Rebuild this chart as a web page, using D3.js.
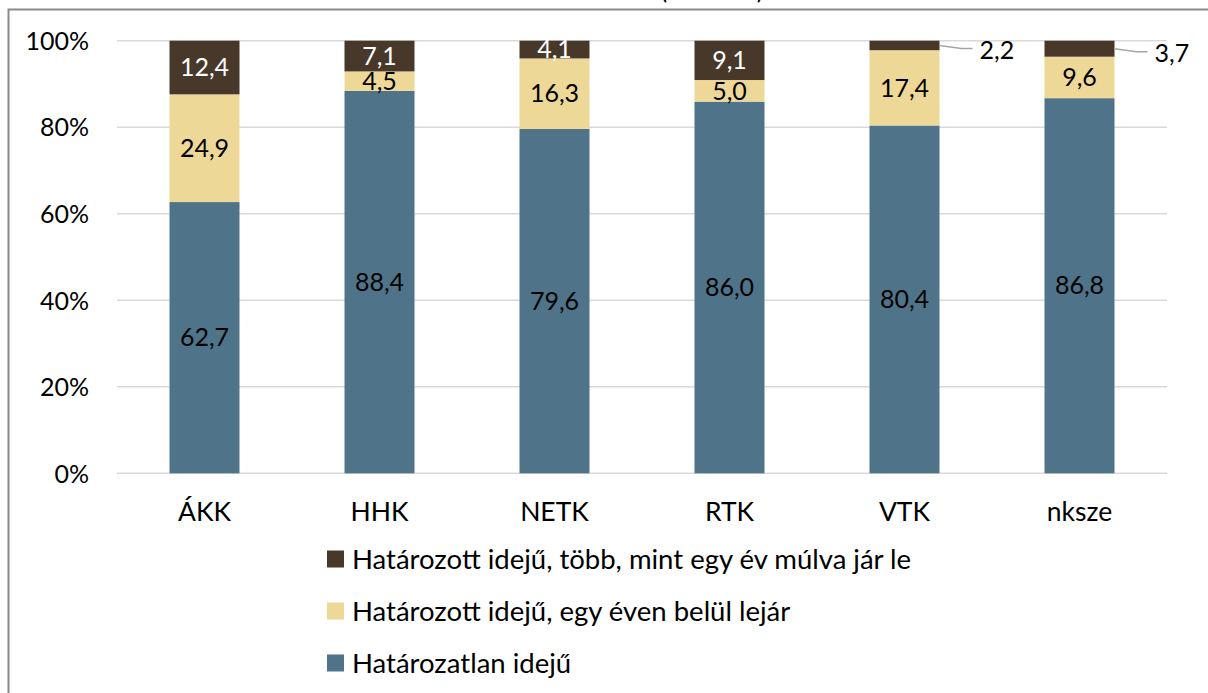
<!DOCTYPE html>
<html><head><meta charset="utf-8">
<script src="https://cdn.jsdelivr.net/npm/d3@7"></script>
<style>
html,body{margin:0;padding:0;background:#fff;}
svg{display:block;}
text{font-family:Lato,"Open Sans",sans-serif;fill:#000;}
</style></head>
<body>
<svg id="c" width="1208" height="693"></svg>
<script>
const categories = ["ÁKK","HHK","NETK","RTK","VTK","nksze"];
const seriesNames = ["Határozatlan idejű","Határozott idejű, egy éven belül lejár","Határozott idejű, több, mint egy év múlva jár le"];
const indefinite = [62.7, 88.4, 79.6, 86.0, 80.4, 86.8];
const withinYear = [24.9, 4.5, 16.3, 5.0, 17.4, 9.6];
const overYear   = [12.4, 7.1, 4.1, 9.1, 2.2, 3.7];
const yTicks = [0, 0.2, 0.4, 0.6, 0.8, 1.0];
const outsideLabels = ["VTK","nksze"]; // brown labels drawn outside with leader lines

const colors = ["#4F7489","#EDD898","#48382A"];
const labelColors = ["#000","#000","#fff"];
const series = [indefinite, withinYear, overYear];

const svg = d3.select("#c");
const FS_NUM = 25, FS_AX = 25, FS_CAT = 26.5, FS_LEG = 27.5;

// frame
svg.append("path").attr("d","M8.5,693 L8.5,9.5 L1208,9.5").attr("fill","none").attr("stroke","#898989").attr("stroke-width",2);
// cut-off title remnant (only the bottom of the parentheses is visible in the reference)
svg.append("text").attr("x",712).attr("y",-1).attr("text-anchor","middle").attr("font-size",25).text("(százalék)");

const x = d3.scaleBand().domain(categories).range([117,1167]).paddingInner(0.6).paddingOuter(0.3);
const y = d3.scaleLinear().domain([0,1]).range([473.3,40.7]);

// gridlines
svg.append("g").selectAll("line").data(yTicks).join("line")
  .attr("x1",117).attr("x2",1167).attr("y1",d=>y(d)).attr("y2",d=>y(d))
  .attr("stroke","#d9d9d9").attr("stroke-width",1.5);

// y axis labels
const yAxis = d3.axisLeft(y).tickValues(yTicks).tickFormat(d=>Math.round(d*100)+"%").tickSize(0).tickPadding(0);
const ya = svg.append("g").attr("transform","translate(89,0)").call(yAxis);
ya.select(".domain").remove();
ya.selectAll("text").attr("font-size",FS_AX).attr("font-family","Lato,sans-serif").attr("fill","#000").attr("dy","0.35em");

// stacked data (100% stacked)
const rows = categories.map((c,i)=>{
  const vals = series.map(s=>s[i]);
  const tot = d3.sum(vals);
  let acc = 0;
  return vals.map((v,k)=>{ const y0=acc/tot; acc+=v; return {cat:c,k,v,y0,y1:acc/tot}; });
});
const segs = rows.flat();

svg.append("g").selectAll("rect").data(segs).join("rect")
  .attr("x",d=>x(d.cat)).attr("width",x.bandwidth())
  .attr("y",d=>y(d.y1)).attr("height",d=>y(d.y0)-y(d.y1))
  .attr("fill",d=>colors[d.k]);

const fmt = v => v.toFixed(1).replace(".",",");

// inside labels
svg.append("g").selectAll("text").data(segs.filter(d=>!(d.k===2 && outsideLabels.includes(d.cat)))).join("text")
  .attr("x",d=>x(d.cat)+x.bandwidth()/2).attr("y",d=>(y(d.y0)+y(d.y1))/2)
  .attr("dy","0.35em").attr("text-anchor","middle").attr("font-size",FS_NUM)
  .style("fill",d=>labelColors[d.k]).text(d=>fmt(d.v));

// outside labels with leader lines
const outs = segs.filter(d=>d.k===2 && outsideLabels.includes(d.cat));
const og = svg.append("g");
outs.forEach(d=>{
  const xr = x(d.cat)+x.bandwidth();
  const ym = (y(d.y0)+y(d.y1))/2;
  og.append("path").attr("d",`M${xr},${ym} L${xr+22},${ym+3} L${xr+33},${ym+3}`)
    .attr("fill","none").attr("stroke","#a6a6a6").attr("stroke-width",1.5);
  og.append("text").attr("x",xr+40).attr("y",ym+5).attr("dy","0.35em").attr("font-size",FS_NUM).text(fmt(d.v));
});

// x axis labels
svg.append("g").selectAll("text").data(categories).join("text")
  .attr("x",d=>x(d)+x.bandwidth()/2).attr("y",521).attr("text-anchor","middle").attr("font-size",FS_CAT).text(d=>d);

// legend
const legOrder = [2,1,0];
const lg = svg.append("g").selectAll("g").data(legOrder).join("g")
  .attr("transform",(d,i)=>`translate(327,${559+i*52})`);
lg.append("rect").attr("x",0).attr("y",-8.5).attr("width",17).attr("height",17).attr("fill",d=>colors[d]);
lg.append("text").attr("x",25).attr("y",0).attr("dy","0.35em").attr("font-size",FS_LEG).text(d=>seriesNames[d]);
</script>
</body></html>
